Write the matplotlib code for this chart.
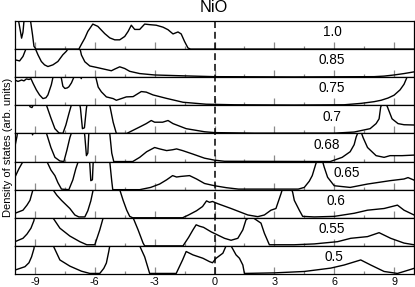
import matplotlib
matplotlib.use("Agg")
import matplotlib.pyplot as plt
from matplotlib.lines import Line2D
from matplotlib.ticker import MultipleLocator

plt.rcParams['font.family'] = ['Liberation Sans', 'DejaVu Sans']
plt.rcParams['axes.unicode_minus'] = False

title = "NiO"
ylabel = "Density of states (arb. units)"
panel_labels = ["1.0", "0.85", "0.75", "0.7", "0.68", "0.65", "0.6", "0.55", "0.5"]
label_x = [5.9, 5.9, 5.9, 5.9, 5.65, 6.65, 6.1, 5.9, 6.0]
xticks = [-9, -6, -3, 0, 3, 6, 9]

# Energy (eV) / DOS (fraction of panel height) for each panel, top to bottom
x_10 = [-10, -9.82, -9.72, -9.67, -9.6, -9.55, -9.4, -9.22, -9.12, -9.05, -8.95, -6.8, -6.65,
        -6.5, -6.35, -6.1, -5.85, -5.5, -5.25, -5.0, -4.75, -4.5, -4.33, -4.17, -4.0, -3.75,
        -3.5, -3.25, -2.92, -2.58, -2.33, -2.08, -1.83, -1.67, -1.5, -1.33, -1.2, 10]
y_10 = [1.5, 1.0, 0.6, 0.39, 0.6, 1.0, 1.5, 1.0, 0.5, 0.1, 0.0, 0.0, 0.2,
        0.39, 0.63, 0.89, 0.81, 0.55, 0.4, 0.33, 0.33, 0.45, 0.63, 0.85, 0.7, 0.7,
        0.89, 0.87, 0.85, 0.78, 0.69, 0.54, 0.61, 0.54, 0.27, 0.04, 0.0, 0.0]

x_085 = [-10, -9.77, -9.6, -9.5, -9.4, -9.1, -8.97, -8.85, -8.68, -8.52, -8.35, -8.1, -7.85,
         -7.6, -7.43, -7.3, -6.8, -6.72, -6.67, -6.5, -6.25, -5.92, -5.42, -5.17, -5.0, -4.75,
         -4.5, -4.25, -3.75, -3.0, -1.6, 0, 4, 8.0, 8.5, 9.0, 9.5, 10]
y_085 = [0.62, 0.58, 0.74, 0.92, 1.1, 1.1, 1.0, 0.8, 0.56, 0.44, 0.38, 0.44, 0.56,
         0.8, 0.92, 1.05, 1.05, 0.95, 0.79, 0.55, 0.4, 0.35, 0.27, 0.23, 0.29, 0.37,
         0.31, 0.21, 0.13, 0.08, 0.05, 0.02, 0.01, 0.02, 0.04, 0.08, 0.13, 0.19]

x_075 = [-10, -9.85, -9.67, -9.55, -9.43, -9.3, -9.2, -9.1, -8.93, -8.77, -8.6, -8.45, -8.35,
         -8.18, -8.08, -7.7, -7.6, -7.5, -7.38, -7.3, -7.17, -7.05, -6.95, -6.72, -6.68, -6.63,
         -6.05, -5.95, -5.83, -5.67, -5.42, -5.08, -4.92, -4.67, -4.42, -4.08, -3.83, -3.67,
         -3.42, -3.08, -2.42, -1.58, -0.42, 1, 4, 6.5, 7.35, 8.0, 8.35, 8.7, 9.0, 9.3, 9.5,
         9.65, 9.75]
y_075 = [0.9, 0.85, 0.9, 0.87, 0.94, 0.92, 0.95, 0.79, 0.55, 0.37, 0.24, 0.27, 0.37,
         0.73, 1.05, 1.05, 0.68, 0.6, 0.62, 0.66, 0.8, 1.0, 1.1, 1.05, 0.95, 1.05,
         1.1, 1.0, 0.65, 0.48, 0.3, 0.24, 0.18, 0.24, 0.3, 0.31, 0.42, 0.49,
         0.47, 0.37, 0.25, 0.11, 0.04, 0.02, 0.01, 0.02, 0.07, 0.13, 0.18, 0.26, 0.36, 0.55, 0.75,
         1.0, 1.2]

x_07 = [-10, -9.3, -9.25, -9.15, -9.05, -8.5, -8.42, -8.2, -8.0, -7.8, -7.6, -7.45, -7.3,
        -7.18, -7.1, -6.8, -6.72, -6.62, -6.52, -6.42, -6.35, -5.3, -5.25, -5.08, -4.92, -4.4,
        -3.75, -3.42, -3.17, -3.0, -2.6, -2.33, -2.08, -1.42, -0.5, 0, 2, 6.0, 7.0, 7.8, 8.1,
        8.25, 8.33, 8.4, 8.6, 8.67, 8.9, 9.2, 9.5, 10]
y_07 = [1.2, 1.1, 0.95, 0.92, 1.05, 1.2, 1.0, 0.55, 0.17, 0.02, 0.0, 0.3, 0.7,
        1.0, 1.2, 1.2, 0.9, 0.17, 0.2, 0.9, 1.2, 1.2, 1.0, 0.4, 0.0, 0.0,
        0.23, 0.35, 0.46, 0.4, 0.4, 0.46, 0.35, 0.17, 0.06, 0.03, 0.01, 0.01, 0.05, 0.17, 0.35,
        0.52, 0.94, 1.05, 1.05, 0.94, 0.52, 0.35, 0.31, 0.3]

x_068 = [-10, -9.9, -9.85, -9.2, -9.12, -9.0, -8.5, -8.42, -8.2, -8.0, -7.75, -7.55, -7.4,
         -7.25, -7.18, -7.1, -6.55, -6.5, -6.42, -6.35, -6.3, -6.25, -5.3, -5.25, -5.15, -5.05,
         -4.1, -3.75, -3.4, -3.0, -2.75, -2.4, -2.1, -1.9, -1.6, -1.1, -0.5, 0, 0.5, 5.8, 6.4,
         6.8, 7.0, 7.1, 7.2, 7.35, 7.45, 7.67, 8.1, 8.5, 8.8, 9.4, 10]
y_068 = [0.55, 0.9, 1.2, 1.2, 0.95, 1.2, 1.2, 1.0, 0.5, 0.15, 0.02, 0.0, 0.4,
         0.85, 1.0, 1.2, 1.2, 0.9, 0.21, 0.3, 1.0, 1.2, 1.2, 1.0, 0.3, 0.0,
         0.0, 0.15, 0.35, 0.5, 0.45, 0.39, 0.42, 0.45, 0.39, 0.27, 0.12, 0.05, 0.01, 0.0, 0.15,
         0.35, 0.6, 0.87, 1.05, 1.05, 0.85, 0.5, 0.21, 0.15, 0.21, 0.21, 0.23]

x_065 = [-10, -9.8, -9.6, -9.5, -8.5, -8.4, -8.2, -8.0, -7.85, -7.67, -7.3, -7.1, -6.95,
         -6.83, -6.75, -6.3, -6.25, -6.2, -6.12, -6.08, -6.0, -5.3, -5.25, -5.15, -5.1, -3.75,
         -3.2, -2.75, -2.4, -2.1, -1.9, -1.7, -1.25, -0.9, -0.5, 0, 0.6, 1.2, 4.2, 4.5, 4.75,
         4.9, 5.08, 5.15, 5.4, 5.5, 5.67, 6.0, 6.8, 7.67, 8.8, 9.5, 9.7, 10]
y_065 = [0.45, 0.75, 1.0, 1.2, 1.2, 1.0, 0.7, 0.5, 0.25, 0.02, 0.0, 0.35, 0.75,
         1.0, 1.2, 1.2, 0.9, 0.32, 0.35, 1.0, 1.2, 1.2, 1.0, 0.3, 0.0, 0.0,
         0.08, 0.2, 0.35, 0.5, 0.45, 0.47, 0.5, 0.38, 0.22, 0.14, 0.07, 0.02, 0.02, 0.08, 0.3,
         0.5, 0.92, 1.05, 1.05, 0.8, 0.44, 0.14, 0.08, 0.2, 0.32, 0.38, 0.43, 0.34]

x_06 = [-10, -9.6, -9.4, -9.25, -9.1, -9.0, -8.2, -8.1, -7.9, -7.67, -7.25, -7.0, -6.8,
        -6.5, -6.35, -6.2, -6.08, -6.0, -4.85, -4.75, -4.58, -4.4, -4.25, -4.1, -1.6, -1.3,
        -0.9, -0.6, -0.4, -0.25, -0.1, 0.17, 0.83, 1.67, 2.17, 2.5, 2.83, 3.08, 3.33, 3.42,
        3.85, 3.92, 4.0, 4.25, 4.42, 5.0, 6.0, 7.0, 7.67, 8.5, 9.17, 9.5, 10]
y_06 = [0.16, 0.27, 0.45, 0.62, 1.0, 1.2, 1.2, 1.0, 0.8, 0.62, 0.33, 0.1, 0.03,
        0.03, 0.25, 0.6, 1.0, 1.2, 1.2, 1.0, 0.62, 0.27, 0.05, 0.0, 0.0, 0.1,
        0.25, 0.4, 0.6, 0.55, 0.58, 0.5, 0.33, 0.1, 0.04, 0.1, 0.27, 0.33, 0.85, 1.05,
        1.05, 0.9, 0.62, 0.27, 0.05, 0.03, 0.05, 0.16, 0.27, 0.33, 0.45, 0.27, 0.1]

x_055 = [-10, -9.6, -9.4, -9.2, -9.05, -9.0, -8.2, -8.1, -7.75, -7.25, -6.75, -6.4, -6.0,
         -5.75, -5.58, -5.5, -4.2, -4.08, -3.83, -3.58, -3.5, -1.58, -1.3, -1.08, -0.92,
         -0.75, -0.55, -0.17, 0.5, 0.83, 1.17, 1.42, 1.58, 1.83, 2.08, 2.33, 2.5, 2.75, 4.0,
         5.0, 6.17, 6.83, 7.67, 8.25, 8.83, 9.5, 10]
y_055 = [0.15, 0.27, 0.42, 0.63, 0.9, 1.2, 1.2, 1.0, 0.63, 0.35, 0.15, 0.04, 0.04,
         0.57, 1.0, 1.2, 1.2, 1.0, 0.57, 0.1, 0.0, 0.0, 0.3, 0.57, 0.75,
         0.7, 0.66, 0.5, 0.27, 0.2, 0.27, 0.57, 0.93, 1.05, 0.93, 0.81, 0.45, 0.04, 0.04,
         0.07, 0.15, 0.27, 0.33, 0.47, 0.27, 0.1, 0.04]

x_05 = [-10, -9.5, -9.3, -9.17, -9.05, -9.0, -8.15, -8.08, -7.75, -7.25, -6.67, -6.25, -5.75,
        -5.55, -5.42, -5.3, -5.25, -5.2, -3.8, -3.75, -3.5, -3.25, -1.92, -1.6, -1.42, -1.08,
        -0.58, -0.25, -0.1, 0.08, 0.42, 0.58, 0.65, 0.83, 1.08, 1.25, 1.42, 1.5, 3.0, 4.5,
        5.83, 6.5, 7.33, 7.83, 8.5, 9.17, 9.5, 10]
y_05 = [0.14, 0.26, 0.4, 0.61, 0.9, 1.2, 1.2, 1.0, 0.5, 0.28, 0.1, 0.02, 0.02,
        0.2, 0.39, 0.8, 1.0, 1.2, 1.2, 1.0, 0.61, 0.02, 0.02, 0.5, 0.8, 0.68,
        0.56, 0.44, 0.4, 0.56, 0.74, 1.0, 1.05, 1.0, 0.68, 0.56, 0.32, 0.02, 0.04, 0.09,
        0.21, 0.32, 0.5, 0.32, 0.09, 0.02, 0.09, 0.2]

series_x = [x_10, x_085, x_075, x_07, x_068, x_065, x_06, x_055, x_05]
series_y = [y_10, y_085, y_075, y_07, y_068, y_065, y_06, y_055, y_05]

W, H = 415, 287
fig = plt.figure(figsize=(W / 100, H / 100), dpi=100)
left, right = 15 / W, 414 / W
top, bottom = 1 - 21 / H, 1 - 274 / H
n = len(panel_labels)
gs = fig.add_gridspec(n, 1, left=left, right=right, top=top, bottom=bottom, hspace=0)
axes = [fig.add_subplot(gs[i, 0]) for i in range(n)]

for i, ax in enumerate(axes):
    ax.plot(series_x[i], series_y[i], color='black', lw=1.0, solid_joinstyle='round')
    ax.set_xlim(-10, 10)
    ax.set_ylim(0, 1)
    ax.set_yticks([])
    ax.xaxis.set_major_locator(MultipleLocator(3))
    ax.xaxis.set_minor_locator(MultipleLocator(1.5))
    ax.set_xticks(xticks)
    ax.tick_params(axis='x', which='major', direction='in', length=5, width=0.9,
                   color='#8a8a8a', labelsize=7.8, pad=2.5)
    ax.tick_params(axis='x', which='minor', direction='in', length=2.5, width=0.9,
                   color='#8a8a8a')
    ax.tick_params(axis='x', which='both', top=False)
    if i < n - 1:
        ax.tick_params(axis='x', labelbottom=False)
    for s in ax.spines.values():
        s.set_linewidth(0.9)
    ax.text(label_x[i], 0.6, panel_labels[i], ha='center', va='center', fontsize=9.8)

# dashed Fermi level line across all panels
x0 = fig.transFigure.inverted().transform(axes[0].transData.transform((0, 0)))[0]
fig.add_artist(Line2D([x0, x0], [bottom, top], transform=fig.transFigure,
                      color='black', lw=1.1, linestyle=(0, (4.5, 2.5))))

fig.text(214 / W, 1 - 8 / H, title, ha='center', va='center', fontsize=11.7)
fig.text(8 / W, 1 - 147.5 / H, ylabel, rotation=90, ha='center', va='center', fontsize=8)

fig.savefig('out.png', dpi=100)
